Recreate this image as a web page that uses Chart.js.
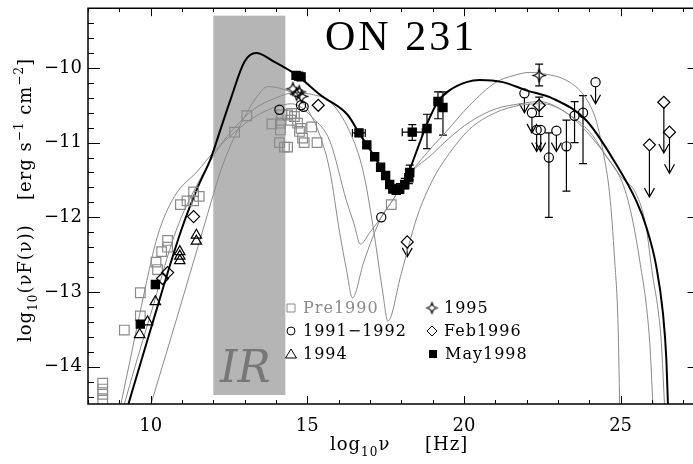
<!DOCTYPE html>
<html>
<head>
<meta charset="utf-8">
<script src="https://cdn.jsdelivr.net/npm/chart.js@4.4.0/dist/chart.umd.min.js"></script>
<style>
html, body { margin: 0; padding: 0; background: #fff; overflow: hidden; }
canvas { display: block; }
</style>
</head>
<body>
<canvas id="sed" width="693" height="464"></canvas>
<script>
// tick labels
var xTicks = [10, 15, 20, 25];
var yTicks = [-14, -13, -12, -11, -10];

// Pre1990 (grey open squares)
var preX = [8.47, 8.47, 8.47, 8.47, 9.16, 9.67, 9.67, 10.17, 10.22, 10.35, 10.54, 10.54, 10.95, 11.16, 11.37, 11.37, 11.55, 12.68, 13.07, 13.87, 14.11, 14.14, 14.14, 14.18, 14.27, 14.37, 14.37, 14.47, 14.5, 14.59, 14.69, 14.75, 14.8, 14.85, 14.9, 15.14, 15.31, 17.68];
var preY = [-14.22, -14.3, -14.37, -14.45, -13.51, -13.01, -13.32, -12.6, -12.7, -12.46, -12.31, -12.4, -11.83, -11.78, -11.66, -11.78, -11.72, -10.86, -10.64, -10.75, -11.0, -10.74, -10.83, -10.63, -11.06, -11.06, -10.63, -10.7, -10.61, -10.65, -10.74, -10.85, -10.81, -10.94, -11.0, -10.79, -11.0, -11.83];

// 1991-1992 (open circles)
var c92X = [14.11, 14.8, 14.88, 17.36, 21.93, 22.17, 22.32, 22.45, 22.71, 22.95, 23.27, 23.53, 23.8, 24.2];
var c92Y = [-10.56, -10.5, -10.52, -12.0, -10.34, -10.6, -10.83, -10.83, -11.2, -10.84, -11.05, -10.64, -10.6, -10.19];
var c92Lo = [null, null, null, null, null, null, null, null, -12.0, null, -11.65, -11.0, -11.28, null];
var c92Hi = [null, null, null, null, null, null, null, null, -10.87, null, -10.7, -10.45, -10.37, null];
var c92UL = [null, null, null, null, -10.6, -10.87, -11.12, -11.12, null, -11.12, null, null, null, -10.48];

// 1994 (open triangles)
var t94X = [9.65, 9.9, 10.15, 10.93, 10.93, 10.93, 11.46, 11.46];
var t94Y = [-13.57, -13.4, -13.13, -12.46, -12.52, -12.58, -12.24, -12.32];

// 1995 (stars)
var s95X = [14.54, 14.66, 14.74, 14.82, 22.4];
var s95Y = [-10.28, -10.35, -10.32, -10.38, -10.1];
var s95Lo = [null, null, null, null, -10.24];
var s95Hi = [null, null, null, null, -9.95];

// Feb1996 (open diamonds)
var d96X = [10.38, 10.54, 11.37, 15.35, 18.19, 22.4, 25.92, 26.38, 26.56];
var d96Y = [-12.82, -12.74, -11.99, -10.5, -12.33, -10.5, -11.03, -10.46, -10.86];
var d96Lo = [null, null, null, null, null, -10.65, null, null, null];
var d96Hi = [null, null, null, null, null, -10.39, null, null, null];
var d96UL = [null, null, null, null, -12.53, null, -11.73, -11.14, -11.41];

// May1998 (filled squares)
var m98X = [9.67, 10.15, 14.64, 14.72, 14.8, 16.65, 16.9, 17.15, 17.34, 17.5, 17.63, 17.73, 17.84, 17.95, 18.11, 18.24, 18.27, 18.35, 18.82, 19.17, 19.33];
var m98Y = [-13.43, -12.9, -10.1, -10.11, -10.12, -10.87, -11.03, -11.19, -11.33, -11.44, -11.56, -11.62, -11.64, -11.62, -11.56, -11.47, -11.4, -10.86, -10.81, -10.45, -10.53];
var m98Lo = [null, null, null, null, null, null, null, null, null, null, null, null, -11.69, -11.68, -11.62, -11.55, -11.5, -10.97, -11.08, -10.68, -10.9];
var m98Hi = [null, null, null, null, null, null, null, null, null, null, null, null, -11.58, -11.55, -11.48, -11.38, -11.3, -10.76, -10.62, -10.32, -10.32];
var m98XLo = [null, null, null, null, null, 16.44, null, null, null, null, null, null, null, null, null, null, null, 18.03, null, null, null];
var m98XHi = [null, null, null, null, null, 16.85, null, null, null, null, null, null, null, null, null, null, null, 18.67, null, null, null];

// model for May1998 (black)
var fitX = [9.29, 10.0, 10.97, 11.5, 11.92, 12.24, 12.56, 12.99, 13.37, 13.95, 14.67, 15.44, 16.29, 16.65, 16.9, 17.15, 17.35, 17.55, 17.75, 17.9, 18.05, 18.27, 18.59, 18.82, 19.17, 19.54, 20.08, 20.5, 21.24, 21.99, 22.84, 23.9, 24.86, 25.5, 25.82, 26.14, 26.35, 26.46, 26.51];
var fitY = [-14.5, -13.5, -12.18, -11.6, -11.21, -10.81, -10.41, -9.92, -9.8, -9.92, -10.1, -10.37, -10.63, -10.87, -11.03, -11.19, -11.33, -11.47, -11.6, -11.64, -11.58, -11.36, -11.0, -10.75, -10.45, -10.3, -10.19, -10.16, -10.19, -10.3, -10.41, -10.7, -11.29, -11.78, -12.13, -12.66, -13.28, -13.9, -14.5];

// older models (grey)
var g1X = [10.01, 10.8, 11.66, 12.3, 12.7, 13.07, 13.4, 13.73, 14.1, 14.6, 15.0, 15.4, 15.72, 16.03, 16.25, 16.44, 16.8, 17.36, 17.68, 18.27, 19.0, 19.44, 20.18, 21.03, 21.6, 22.1, 22.42, 23.37, 23.9, 24.23, 24.44, 24.65, 24.81, 24.92, 24.97];
var g1Y = [-14.5, -13.4, -12.18, -11.3, -10.9, -10.6, -10.38, -10.25, -10.27, -10.36, -10.55, -10.9, -11.38, -12.2, -12.7, -13.08, -12.6, -12.0, -11.8, -11.42, -11.05, -10.85, -10.5, -10.19, -10.1, -10.06, -10.07, -10.19, -10.41, -10.72, -11.12, -11.69, -12.57, -13.46, -14.5];
var g2X = [9.05, 9.4, 9.8, 10.22, 10.76, 11.5, 12.0, 12.68, 13.3, 14.0, 14.5, 15.2, 15.72, 16.25, 16.5, 16.69, 17.0, 17.36, 17.68, 18.27, 19.0, 19.5, 20.2, 21.0, 21.78, 22.42, 23.37, 24.0, 24.44, 25.18, 25.61, 25.93, 26.03];
var g2Y = [-14.5, -13.8, -13.0, -12.25, -11.72, -11.38, -11.13, -10.86, -10.66, -10.52, -10.48, -10.68, -10.98, -11.78, -12.1, -12.36, -12.2, -12.0, -11.8, -11.42, -11.15, -10.95, -10.72, -10.55, -10.48, -10.45, -10.63, -10.85, -11.12, -11.69, -12.58, -13.68, -14.5];
var g3X = [9.16, 9.5, 10.0, 10.81, 11.5, 12.2, 12.68, 13.3, 14.0, 14.6, 15.2, 15.72, 16.35, 16.78, 17.1, 17.41, 17.57, 18.0, 18.5, 19.0, 19.44, 20.18, 21.0, 21.78, 22.5, 23.2, 23.8, 24.44, 25.0, 25.5, 25.8, 26.03, 26.2, 26.3, 26.4];
var g3Y = [-14.5, -14.0, -13.3, -12.18, -11.55, -11.05, -10.8, -10.55, -10.4, -10.33, -10.36, -10.45, -10.85, -11.38, -12.13, -13.01, -13.39, -12.75, -12.0, -11.5, -11.2, -10.82, -10.6, -10.5, -10.48, -10.58, -10.8, -11.12, -11.45, -11.69, -12.1, -12.8, -13.25, -13.68, -14.5];

var SERIF = '"DejaVu Serif", serif';
var GREY = '#8a8a8a';
var X_MIN = 8;
var X_FRAME_END = 27.52; // right frame of the plot lies just past the picture edge
var PX_PER_DECADE = 31.33;

function pts(xs, ys) {
    return xs.map(function (x, i) { return { x: x, y: ys[i] }; });
}

function starCanvas(r, color) {
    var c = document.createElement('canvas');
    var s = 2 * r + 3;
    c.width = s; c.height = s;
    var g = c.getContext('2d');
    var m = s / 2, k = r * 0.06;
    g.beginPath();
    g.moveTo(m, m - r);
    g.quadraticCurveTo(m + k, m - k, m + r, m);
    g.quadraticCurveTo(m + k, m + k, m, m + r);
    g.quadraticCurveTo(m - k, m + k, m - r, m);
    g.quadraticCurveTo(m - k, m - k, m, m - r);
    g.strokeStyle = color; g.lineWidth = 1.2;
    g.stroke();
    return c;
}

function markers(label, xs, ys, style, radius, color, fill, extra) {
    var ds = {
        label: label, data: pts(xs, ys), pointStyle: style, pointRadius: radius,
        borderColor: color, backgroundColor: fill, pointBorderWidth: 1.2, order: 0
    };
    for (var k in extra) ds[k] = extra[k];
    return ds;
}

function model(label, xs, ys, color, width) {
    return {
        label: label, data: pts(xs, ys), showLine: true, pointRadius: 0,
        borderColor: color, borderWidth: width, cubicInterpolationMode: 'monotone', order: 1
    };
}

// IR band, error bars, upper limits (drawn under the markers)
var underPlugin = {
    id: 'under',
    beforeDatasetsDraw: function (chart) {
        var ctx = chart.ctx, a = chart.chartArea, xs = chart.scales.x, ys = chart.scales.y;
        ctx.save();
        ctx.beginPath();
        ctx.rect(a.left, a.top, a.right - a.left, a.bottom - a.top);
        ctx.clip();

        var bx0 = xs.getPixelForValue(12.0), bx1 = xs.getPixelForValue(14.3);
        var by0 = ys.getPixelForValue(-9.3), by1 = ys.getPixelForValue(-14.38);
        ctx.fillStyle = '#b5b5b5';
        ctx.fillRect(bx0, by0, bx1 - bx0, by1 - by0);
        ctx.fillStyle = '#777';
        ctx.font = 'italic 44px ' + SERIF;
        ctx.textAlign = 'center';
        ctx.textBaseline = 'alphabetic';
        ctx.fillText('IR', (bx0 + bx1) / 2 - 4, ys.getPixelForValue(-14.2));

        chart.data.datasets.forEach(function (ds) {
            ctx.strokeStyle = '#000';
            ctx.lineWidth = 1.2;
            ds.data.forEach(function (p, i) {
                var px = xs.getPixelForValue(p.x), py = ys.getPixelForValue(p.y);
                ctx.beginPath();
                if (ds.errLo && ds.errLo[i] != null) {
                    var lo = ys.getPixelForValue(ds.errLo[i]), hi = ys.getPixelForValue(ds.errHi[i]);
                    ctx.moveTo(px, lo); ctx.lineTo(px, hi);
                    ctx.moveTo(px - 4, lo); ctx.lineTo(px + 4, lo);
                    ctx.moveTo(px - 4, hi); ctx.lineTo(px + 4, hi);
                }
                if (ds.xLo && ds.xLo[i] != null) {
                    var l = xs.getPixelForValue(ds.xLo[i]), r = xs.getPixelForValue(ds.xHi[i]);
                    ctx.moveTo(l, py); ctx.lineTo(r, py);
                    ctx.moveTo(l, py - 4); ctx.lineTo(l, py + 4);
                    ctx.moveTo(r, py - 4); ctx.lineTo(r, py + 4);
                }
                if (ds.ul && ds.ul[i] != null) {
                    var tip = ys.getPixelForValue(ds.ul[i]);
                    ctx.moveTo(px, py + ds.pointRadius); ctx.lineTo(px, tip);
                    ctx.moveTo(px - 5, tip - 9); ctx.lineTo(px, tip); ctx.lineTo(px + 5, tip - 9);
                }
                ctx.stroke();
            });
        });
        ctx.restore();
    }
};

function richText(ctx, parts, x, y) {
    parts.forEach(function (p) {
        ctx.font = p[1] + 'px ' + SERIF;
        ctx.fillText(p[0], x, y + p[2]);
        x += ctx.measureText(p[0]).width;
    });
}

// frame, inward ticks, titles, legend
var framePlugin = {
    id: 'frame',
    afterDraw: function (chart) {
        var ctx = chart.ctx, a = chart.chartArea, xs = chart.scales.x, ys = chart.scales.y;
        var xr = xs.getPixelForValue(X_FRAME_END);
        ctx.save();
        ctx.strokeStyle = '#000';
        ctx.lineWidth = 1.5;
        ctx.beginPath();
        ctx.moveTo(xr, a.top); ctx.lineTo(a.left, a.top); ctx.lineTo(a.left, a.bottom); ctx.lineTo(xr, a.bottom);
        ctx.stroke();
        ctx.lineWidth = 1;
        ctx.beginPath();
        for (var v = 8; v <= 27; v++) {
            var px = Math.round(xs.getPixelForValue(v)) + 0.5;
            var tl = v % 5 === 0 ? 8 : 4;
            ctx.moveTo(px, a.bottom); ctx.lineTo(px, a.bottom - tl);
            ctx.moveTo(px, a.top); ctx.lineTo(px, a.top + tl);
        }
        for (var k = -72; k <= -47; k++) {
            var py = Math.round(ys.getPixelForValue(k / 5)) + 0.5;
            var tl2 = k % 5 === 0 ? 12 : 6;
            ctx.moveTo(a.left, py); ctx.lineTo(a.left + tl2, py);
            ctx.moveTo(xr, py); ctx.lineTo(xr - tl2, py);
        }
        ctx.stroke();

        ctx.fillStyle = '#000';
        ctx.textBaseline = 'alphabetic';
        ctx.textAlign = 'left';
        ctx.font = '42px "Liberation Serif", serif';
        ctx.letterSpacing = '3px';
        ctx.fillText('ON 231', 325, 50);

        ctx.letterSpacing = '1px';
        richText(ctx, [['log', 18, 0], ['10', 12, 6], ['\u03bd', 18, 0]], 330, 450);
        richText(ctx, [['[Hz]', 18, 0]], 425, 450);

        ctx.save();
        ctx.translate(31, 342);
        ctx.rotate(-Math.PI / 2);
        richText(ctx, [['log', 18, 0], ['10', 12, 6], ['(\u03bdF(\u03bd))', 18, 0]], 0, 0);
        richText(ctx, [['[erg s', 18, 0], ['\u22121', 12, -8], [' cm', 18, 0], ['\u22122', 12, -8], [']', 18, 0]], 142, 0);
        ctx.restore();

        // legend
        var rows = [308, 331, 354];
        var entries = [
            [291, rows[0], 'sq', 'Pre1990', GREY], [291, rows[1], 'ci', '1991\u22121992', '#000'], [291, rows[2], 'tr', '1994', '#000'],
            [432, rows[0], 'st', '1995', '#000'], [432, rows[1], 'di', 'Feb1996', '#000'], [433, rows[2], 'fs', 'May1998', '#000']
        ];
        ctx.font = '16px ' + SERIF;
        ctx.textBaseline = 'middle';
        entries.forEach(function (e) {
            var x = e[0], y = e[1];
            ctx.strokeStyle = e[4]; ctx.fillStyle = e[4]; ctx.lineWidth = 1;
            ctx.beginPath();
            if (e[2] === 'sq') ctx.rect(x - 4, y - 4, 8, 8);
            if (e[2] === 'fs') { ctx.fillRect(x - 4, y - 4, 8, 8); }
            if (e[2] === 'ci') ctx.arc(x, y, 4, 0, 2 * Math.PI);
            if (e[2] === 'tr') { ctx.moveTo(x, y - 5); ctx.lineTo(x + 5.5, y + 4); ctx.lineTo(x - 5.5, y + 4); ctx.closePath(); }
            if (e[2] === 'di') { ctx.moveTo(x, y - 5); ctx.lineTo(x + 5, y); ctx.lineTo(x, y + 5); ctx.lineTo(x - 5, y); ctx.closePath(); }
            ctx.stroke();
            if (e[2] === 'st') ctx.drawImage(starCanvas(6, e[4]), x - 7.5, y - 7.5);
            ctx.fillText(e[3], x + 12, y + 1);
        });
        ctx.restore();
    }
};

var datasets = [
    markers('May1998', m98X, m98Y, 'rect', 5.8, '#000', '#000', { errLo: m98Lo, errHi: m98Hi, xLo: m98XLo, xHi: m98XHi }),
    markers('1995', s95X, s95Y, starCanvas(7, '#000'), 7, '#000', 'rgba(0,0,0,0)', { errLo: s95Lo, errHi: s95Hi }),
    markers('Feb1996', d96X, d96Y, 'rectRot', 6, '#000', 'rgba(0,0,0,0)', { errLo: d96Lo, errHi: d96Hi, ul: d96UL }),
    markers('1994', t94X, t94Y, 'triangle', 6, '#000', 'rgba(0,0,0,0)', {}),
    markers('1991-1992', c92X, c92Y, 'circle', 4.6, '#000', 'rgba(0,0,0,0)', { errLo: c92Lo, errHi: c92Hi, ul: c92UL }),
    markers('Pre1990', preX, preY, 'rect', 6.8, GREY, 'rgba(0,0,0,0)', {}),
    model('May1998 model', fitX, fitY, '#000', 2),
    model('model 1', g1X, g1Y, GREY, 1),
    model('model 2', g2X, g2Y, GREY, 1),
    model('model 3', g3X, g3Y, GREY, 1)
];

function noPadV(s) { s.width = 88; s.paddingTop = 0; s.paddingBottom = 0; }
function noPadH(s) { s.height = 60; s.paddingLeft = 0; s.paddingRight = 0; }

var sedChart = new Chart(document.getElementById('sed').getContext('2d'), {
    type: 'scatter',
    data: { datasets: datasets },
    plugins: [underPlugin, framePlugin],
    options: {
        responsive: false,
        animation: false,
        devicePixelRatio: 1,
        events: [],
        layout: { padding: { left: 0, right: 0, top: 6, bottom: 0 } },
        plugins: { legend: { display: false }, tooltip: { enabled: false } },
        scales: {
            x: {
                type: 'linear', min: X_MIN, max: 27.31,
                afterFit: noPadH,
                afterBuildTicks: function (s) { s.ticks = xTicks.map(function (v) { return { value: v }; }); },
                grid: { display: false, drawTicks: false },
                border: { display: false },
                ticks: { color: '#000', padding: 12, font: { family: 'DejaVu Serif', size: 18 }, maxRotation: 0 }
            },
            y: {
                type: 'linear', min: -14.5, max: -9.2,
                afterFit: noPadV,
                afterBuildTicks: function (s) { s.ticks = yTicks.map(function (v) { return { value: v }; }); },
                grid: { display: false, drawTicks: false },
                border: { display: false },
                ticks: {
                    color: '#000', padding: 6, font: { family: 'DejaVu Serif', size: 18 },
                    callback: function (v) { return '\u2212' + Math.abs(v); }
                }
            }
        }
    }
});

// keep one decade at the same pixel width as the original, whatever width the layout leaves
var area = sedChart.chartArea;
sedChart.options.scales.x.max = X_MIN + (area.right - area.left) / PX_PER_DECADE;
sedChart.update();
</script>
</body>
</html>
